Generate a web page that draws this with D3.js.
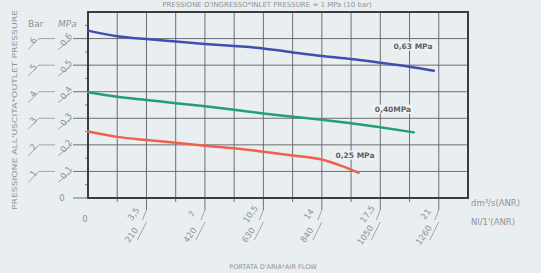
<!DOCTYPE html>
<html>
<head>
<meta charset="utf-8">
<script src="https://d3js.org/d3.v7.min.js"></script>
<style>
  html, body { margin: 0; padding: 0; background: #e9eef0; }
  svg { display: block; font-family: "DejaVu Sans", sans-serif; }
</style>
</head>
<body>
<svg id="chart" width="541" height="273"></svg>
<script>
// Data
const flow063 = [0, 1.75, 3.5, 5.25, 7, 8.75, 10.5, 12.25, 14, 15.75, 17.5, 19.25, 20.7];
const press063 = [0.630, 0.609, 0.598, 0.589, 0.580, 0.572, 0.563, 0.548, 0.534, 0.523, 0.509, 0.494, 0.479];
const flow040 = [0, 1.75, 3.5, 5.25, 7, 8.75, 10.5, 12.25, 14, 15.75, 17.5, 19.5];
const press040 = [0.398, 0.381, 0.369, 0.357, 0.345, 0.332, 0.318, 0.306, 0.294, 0.281, 0.266, 0.247];
const flow025 = [0, 1.75, 3.5, 5.25, 7, 8.75, 10.5, 12.25, 14, 15.3, 16.2];
const press025 = [0.250, 0.230, 0.218, 0.208, 0.197, 0.187, 0.174, 0.160, 0.145, 0.118, 0.095];

const mpaTicks = [0.1, 0.2, 0.3, 0.4, 0.5, 0.6];
const mpaLabels = ['0,1', '0,2', '0,3', '0,4', '0,5', '0,6'];
const barLabels = ['1', '2', '3', '4', '5', '6'];
const flowTicks = [3.5, 7, 10.5, 14, 17.5, 21];
const flowLabels = ['3,5', '7', '10,5', '14', '17,5', '21'];
const nlLabels = ['210', '420', '630', '840', '1050', '1260'];

const series = [
  { name: '0,63 MPa', flow: flow063, press: press063, color: '#3f4fb0', lx: 413, ly: 46 },
  { name: '0,40MPa', flow: flow040, press: press040, color: '#24a070', lx: 393, ly: 109 },
  { name: '0,25 MPa', flow: flow025, press: press025, color: '#f0604e', lx: 355, ly: 155 }
];

// Colors
const colors = {
  grid: '#5f6265',
  frame: '#3a3c3e',
  text: '#8f9396',
  label: '#5e6165'
};

const svg = d3.select('#chart');

const x = d3.scaleLinear().domain([0, 22.75]).range([88, 468]);
const y = d3.scaleLinear().domain([0, 0.7]).range([198, 12]);

// Grid
const grid = svg.append('g');
grid.selectAll('line.v')
  .data(d3.range(1, 13).map(i => i * 1.75))
  .enter().append('line')
  .attr('x1', d => x(d)).attr('x2', d => x(d))
  .attr('y1', y(0.7)).attr('y2', d => flowTicks.includes(d) ? y(0) + 12 : y(0) + 4)
  .attr('stroke', colors.grid).attr('stroke-width', 0.9);

grid.selectAll('line.h')
  .data(mpaTicks)
  .enter().append('line')
  .attr('x1', 73).attr('x2', x(22.75))
  .attr('y1', d => y(d)).attr('y2', d => y(d))
  .attr('stroke', colors.grid).attr('stroke-width', 0.9);

// Minor ticks on left side
grid.selectAll('line.m')
  .data(d3.range(0, 7).map(i => i * 0.1 + 0.05))
  .enter().append('line')
  .attr('x1', x(0) - 3).attr('x2', x(0))
  .attr('y1', d => y(d)).attr('y2', d => y(d))
  .attr('stroke', '#7a5a5a').attr('stroke-width', 0.8);

// Frame
svg.append('rect')
  .attr('x', x(0)).attr('y', y(0.7))
  .attr('width', x(22.75) - x(0)).attr('height', y(0) - y(0.7))
  .attr('fill', 'none').attr('stroke', colors.frame).attr('stroke-width', 2);

svg.append('line')
  .attr('x1', 73).attr('x2', x(0))
  .attr('y1', y(0)).attr('y2', y(0))
  .attr('stroke', colors.grid).attr('stroke-width', 0.9);

// Left axis labels with leaders
const left = svg.append('g');
mpaTicks.forEach((v, i) => {
  const yy = y(v);
  left.append('path')
    .attr('d', `M28,${yy + 11}L39,${yy}L55,${yy}`)
    .attr('fill', 'none').attr('stroke', colors.text).attr('stroke-width', 0.8);
  left.append('path')
    .attr('d', `M58,${yy + 11}L72,${yy}`)
    .attr('fill', 'none').attr('stroke', colors.text).attr('stroke-width', 0.8);
  left.append('text')
    .attr('transform', `translate(33,${yy + 2}) rotate(-55)`)
    .attr('text-anchor', 'middle').attr('dy', '0.35em')
    .attr('font-size', 8.5).attr('fill', colors.text)
    .text(barLabels[i]);
  left.append('text')
    .attr('transform', `translate(66,${yy + 1}) rotate(-55)`)
    .attr('text-anchor', 'middle').attr('dy', '0.35em')
    .attr('font-size', 8.5).attr('fill', colors.text)
    .text(mpaLabels[i]);
});
left.append('text').attr('x', 62).attr('y', y(0) + 3)
  .attr('text-anchor', 'middle').attr('font-size', 8.5).attr('fill', colors.text).text('0');
left.append('text').attr('x', 28).attr('y', 27)
  .attr('font-size', 9).attr('fill', colors.text).text('Bar');
left.append('text').attr('x', 58).attr('y', 27)
  .attr('font-size', 9).attr('font-style', 'italic').attr('fill', colors.text).text('MPa');
left.append('text')
  .attr('transform', 'translate(17,110) rotate(-90)')
  .attr('text-anchor', 'middle')
  .attr('font-size', 6.8).attr('fill', colors.text)
  .attr('textLength', 200).attr('lengthAdjust', 'spacingAndGlyphs')
  .text("PRESSIONE ALL'USCITA*OUTLET PRESSURE");

// Bottom axis labels with leaders
const bottom = svg.append('g');
flowTicks.forEach((v, i) => {
  const xx = x(v);
  bottom.append('path')
    .attr('d', `M${xx},${y(0) + 12}L${xx - 4},${y(0) + 22}M${xx},${y(0) + 24}L${xx - 9},${y(0) + 42}`)
    .attr('fill', 'none').attr('stroke', colors.text).attr('stroke-width', 0.8);
  bottom.append('text')
    .attr('transform', `translate(${xx - 13},${y(0) + 16}) rotate(-55)`)
    .attr('text-anchor', 'middle').attr('dy', '0.35em')
    .attr('font-size', 8.5).attr('fill', colors.text)
    .text(flowLabels[i]);
  bottom.append('text')
    .attr('transform', `translate(${xx - 15},${y(0) + 37}) rotate(-55)`)
    .attr('text-anchor', 'middle').attr('dy', '0.35em')
    .attr('font-size', 8.5).attr('fill', colors.text)
    .text(nlLabels[i]);
});
bottom.append('text').attr('x', 85).attr('y', 222)
  .attr('text-anchor', 'middle').attr('font-size', 8.5).attr('fill', colors.text).text('0');
bottom.append('text').attr('x', 471).attr('y', 206)
  .attr('font-size', 8.5).attr('fill', colors.text).text('dm³/s(ANR)');
bottom.append('text').attr('x', 471).attr('y', 225)
  .attr('font-size', 8.5).attr('fill', colors.text).text("Nl/1'(ANR)");
bottom.append('text').attr('x', 273).attr('y', 269)
  .attr('text-anchor', 'middle').attr('font-size', 6.5).attr('fill', colors.text)
  .text("PORTATA D'ARIA*AIR FLOW");

// Title (near the top edge)
svg.append('text').attr('x', 267).attr('y', 7)
  .attr('text-anchor', 'middle').attr('font-size', 7).attr('fill', colors.text)
  .text("PRESSIONE D'INGRESSO*INLET PRESSURE = 1 MPa (10 bar)");

// Curves
const line = d3.line().x(d => x(d[0])).y(d => y(d[1])).curve(d3.curveMonotoneX);
series.forEach(s => {
  svg.append('path')
    .datum(s.flow.map((f, i) => [f, s.press[i]]))
    .attr('d', line)
    .attr('fill', 'none').attr('stroke', s.color)
    .attr('stroke-width', 2.5).attr('stroke-linecap', 'round');

  const t = svg.append('text')
    .attr('x', s.lx).attr('y', s.ly).attr('dy', '0.35em')
    .attr('text-anchor', 'middle')
    .attr('font-size', 7.5).attr('font-weight', 'bold').attr('fill', colors.label)
    .text(s.name);
  const bb = t.node().getBBox();
  svg.insert('rect', () => t.node())
    .attr('x', bb.x - 2).attr('y', bb.y).attr('width', bb.width + 4).attr('height', bb.height)
    .attr('fill', '#eef2f3');
});
</script>
</body>
</html>
